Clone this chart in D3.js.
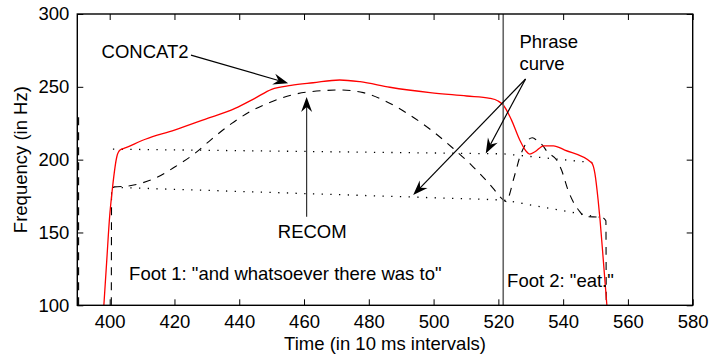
<!DOCTYPE html>
<html>
<head>
<meta charset="utf-8">
<script src="https://cdn.jsdelivr.net/npm/d3@7/dist/d3.min.js"></script>
<style>
  html, body { margin: 0; padding: 0; background: #fff; }
  svg text { font-family: "Liberation Sans", Arial, Helvetica, sans-serif; fill: #000; }
</style>
</head>
<body>
<svg id="chart" width="709" height="356"></svg>
<script>
// F0 contour of CONCAT2 (time in 10 ms frames, Hz)
const concat2 = [
  [398.2,100],[399.1,131],[399.9,158.5],[400.9,181.4],[402.2,202],[403.2,206.6],[405,208.2],
  [411,214],[420,220.3],[429.4,227.7],[438.7,235.2],[444.8,242.1],[450,248.3],[456,251],
  [462.8,252.8],[471,254.7],[477.3,253.5],[486.5,249.7],[498.9,246],[510.2,243.7],
  [517.4,242.1],[519.9,240.3],[521.5,237.5],[524,227.5],[526.6,213.5],[528.5,206],
  [529.7,203.8],[531.3,205.4],[534,209.5],[537,209.5],[540.5,206.6],[548.8,197.9],
  [549.8,190.6],[550.8,172.3],[551.4,158.5],[552.4,131],[553.5,100]
];

// F0 contour of RECOM
const recom = [
  [400.5,100],[400.6,181],[401.5,181.3],[405.7,181.9],[410,184],[414,187.2],[420.2,195.1],
  [426.3,204.3],[431.5,214.1],[437.7,224.9],[443.3,232.9],[450,239.8],[456.2,244.4],
  [461.8,246.6],[471.1,247.8],[478.3,246],[485.5,239.8],[492.7,230.6],[499.9,219.2],
  [506,207.8],[512.2,195.1],[518.4,180.3],[521,173.4],[522.5,171.2],[523.7,178],
  [524.5,185],[525.5,193],[526.5,201],[528,209],[529.2,213.5],[530.5,215],[532,213],
  [533.6,210],[535.1,205.4],[538,199.7],[539.5,192.9],[541.5,179.1],[543.1,171.1],
  [545.2,164.2],[546.5,161],[551.9,160.4],[553.2,158],[553.3,100]
];
// tail of the preceding RECOM contour at the left edge
const recomPrev = [[390.4,100],[390.4,232]];

// phrase curve: upper and lower lines
const phraseUpper = [[401,207.2],[521.5,204],[549,198]];
const phraseLower = [[401,181],[521.5,172.3],[551,160.5]];

// foot boundary
const footBoundary = 521.5;

const xTicks = [400,420,440,460,480,500,520,540,560,580];
const yTicks = [100,150,200,250,300];

// annotation arrows: [from, to] in data units
const arrows = [
  {from:[425.1,271.8], to:[455.1,252.4], color:"#000"},
  {from:[460.8,160.8], to:[460.8,243.0], color:"#333"},
  {from:[528.4,255.4], to:[516.1,204.3], color:"#000"},
  {from:[528.4,255.4], to:[493.7,175.7], color:"#000"}
];

// text annotations: [x, y(baseline)] in data units
const notes = [
  {text:"CONCAT2", at:[397.5,269.8]},
  {text:"Phrase", at:[526.5,276.4]},
  {text:"curve", at:[526.5,261.5]},
  {text:"RECOM", at:[451.9,146.0]},
  {text:"Foot 1: \"and whatsoever there was to\"", at:[406.0,117.3]},
  {text:"Foot 2: \"eat.\"", at:[522.7,112.7]}
];

const FS = 18.5;
const margin = {left:77.3, top:14, right:709-692.7, bottom:356-305.3};
const svg = d3.select("#chart");
const W = 709 - margin.left - margin.right;
const H = 356 - margin.top - margin.bottom;

const x = d3.scaleLinear().domain([390,580]).range([0,W]);
const y = d3.scaleLinear().domain([100,300]).range([H,0]);

const g = svg.append("g").attr("transform",`translate(${margin.left},${margin.top})`);

g.append("defs").append("clipPath").attr("id","plotclip")
  .append("rect").attr("width",W).attr("height",H);

const plot = g.append("g").attr("clip-path","url(#plotclip)");

const smooth = d3.line().x(d=>x(d[0])).y(d=>y(d[1])).curve(d3.curveMonotoneX);
const straight = d3.line().x(d=>x(d[0])).y(d=>y(d[1]));

// phrase curve (dotted)
[phraseUpper, phraseLower].forEach(p => {
  plot.append("path").attr("d", straight(p))
    .attr("fill","none").attr("stroke","#000").attr("stroke-width",1.3)
    .attr("stroke-dasharray","1.3,7.4");
});

// RECOM (dashed)
plot.append("path").attr("d", straight(recomPrev))
  .attr("fill","none").attr("stroke","#000").attr("stroke-width",1.1)
  .attr("stroke-dasharray","8,7");
plot.append("path").attr("d", smooth(recom))
  .attr("fill","none").attr("stroke","#000").attr("stroke-width",1.1)
  .attr("stroke-dasharray","8,7");

// CONCAT2 (red)
plot.append("path").attr("d", smooth(concat2))
  .attr("fill","none").attr("stroke","#ff0000").attr("stroke-width",1.3);

// foot boundary
g.append("line")
  .attr("x1", x(footBoundary)).attr("x2", x(footBoundary))
  .attr("y1", 0).attr("y2", H)
  .attr("stroke","#666").attr("stroke-width",1.6);

// axes box and inward ticks
const tl = 6;
const bottomAxis = d3.axisBottom(x).tickValues(xTicks).tickSizeInner(-tl).tickSizeOuter(0).tickPadding(10);
const topAxis = d3.axisTop(x).tickValues(xTicks).tickSizeInner(-tl).tickSizeOuter(0).tickFormat("");
const leftAxis = d3.axisLeft(y).tickValues(yTicks).tickSizeInner(-tl).tickSizeOuter(0).tickPadding(8);
const rightAxis = d3.axisRight(y).tickValues(yTicks).tickSizeInner(-tl).tickSizeOuter(0).tickFormat("");

const styleAxis = sel => {
  sel.select(".domain").remove();
  sel.selectAll(".tick line").attr("stroke","#000").attr("stroke-width",1);
  sel.selectAll("text").style("font-size", FS+"px")
    .style("font-family","\"Liberation Sans\", Arial, sans-serif").attr("fill","#000");
};
g.append("g").attr("transform",`translate(0,${H})`).call(bottomAxis).call(styleAxis);
g.append("g").call(topAxis).call(styleAxis);
g.append("g").call(leftAxis).call(styleAxis);
g.append("g").attr("transform",`translate(${W},0)`).call(rightAxis).call(styleAxis);

g.append("rect").attr("width",W).attr("height",H)
  .attr("fill","none").attr("stroke","#000").attr("stroke-width",1.4);

// arrows with notched heads
function arrow(a){
  const x0 = x(a.from[0]), y0 = y(a.from[1]);
  const x1 = x(a.to[0]), y1 = y(a.to[1]);
  const ang = Math.atan2(y1-y0, x1-x0);
  const L = 15, hw = 5.5, notch = 10;
  const ux = Math.cos(ang), uy = Math.sin(ang);
  const px = -uy, py = ux;
  const bx = x1 - ux*L, by = y1 - uy*L;
  const nx = x1 - ux*notch, ny = y1 - uy*notch;
  g.append("line").attr("x1",x0).attr("y1",y0).attr("x2",nx).attr("y2",ny)
    .attr("stroke",a.color).attr("stroke-width",1.2);
  g.append("path")
    .attr("d",`M${x1},${y1}L${bx+px*hw},${by+py*hw}L${nx},${ny}L${bx-px*hw},${by-py*hw}Z`)
    .attr("fill","#000");
}
arrows.forEach(arrow);

// text annotations
notes.forEach(n => {
  g.append("text").attr("x", x(n.at[0])).attr("y", y(n.at[1]))
    .style("font-size", FS+"px").text(n.text);
});

// axis titles
svg.append("text")
  .attr("x", margin.left + W/2).attr("y", 350)
  .attr("text-anchor","middle").style("font-size", FS+"px")
  .text("Time (in 10 ms intervals)");
svg.append("text")
  .attr("transform", `translate(27,${margin.top + H/2}) rotate(-90)`)
  .attr("text-anchor","middle").style("font-size", FS+"px")
  .text("Frequency (in Hz)");
</script>
</body>
</html>
